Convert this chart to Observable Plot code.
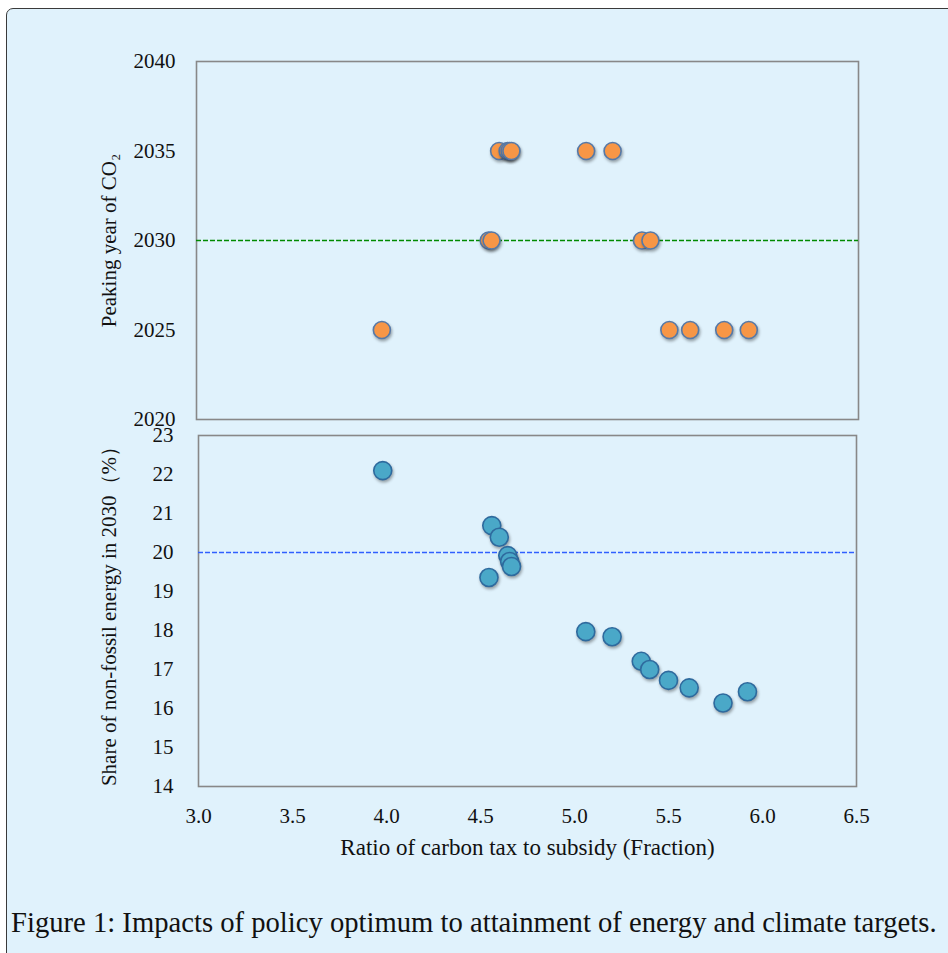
<!DOCTYPE html>
<html>
<head>
<meta charset="utf-8">
<script src="https://cdn.jsdelivr.net/npm/d3@7"></script>
<script src="https://cdn.jsdelivr.net/npm/@observablehq/plot@0.6"></script>
<style>
  html, body { margin: 0; padding: 0; background: #ffffff; }
  body { width: 948px; height: 953px; position: relative; overflow: hidden; }
  #panel { position: absolute; left: 6px; top: 8px; width: 1000px; height: 1000px;
           border: 1.5px solid #3a3a3a; border-radius: 7px; background: #e0f2fc; box-sizing: border-box; }
  .plot { position: absolute; left: 0; top: 0; }
  svg g[aria-label="dot"] circle { filter: drop-shadow(1px 2px 1.5px rgba(0,0,0,0.35)); }
  #caption { position: absolute; left: 11px; top: 906px; font-family: "Liberation Serif", serif;
             font-size: 27px; line-height: 32px; color: #111; white-space: nowrap; }
</style>
</head>
<body>
<div id="panel"></div>
<div id="top" class="plot"></div>
<div id="bottom" class="plot"></div>
<div id="caption">Figure 1: Impacts of policy optimum to attainment of energy and climate targets.</div>
<script>
const ratio    = [3.98, 4.545, 4.56, 4.60, 4.645, 4.655, 4.665, 5.06, 5.20, 5.355, 5.40, 5.50, 5.61, 5.79, 5.92];
const peakYear = [2025, 2030, 2030, 2035, 2035, 2035, 2035, 2035, 2035, 2030, 2030, 2025, 2025, 2025, 2025];
const share    = [22.1, 19.36, 20.69, 20.39, 19.92, 19.77, 19.64, 17.97, 17.84, 17.21, 17.0, 16.72, 16.53, 16.14, 16.43];
const yearTicks  = [2020, 2025, 2030, 2035, 2040];
const shareTicks = [14, 15, 16, 17, 18, 19, 20, 21, 22, 23];
const ratioTicks = [3.0, 3.5, 4.0, 4.5, 5.0, 5.5, 6.0, 6.5];
const peakTarget = 2030;
const shareTarget = 20;

const rows = ratio.map((r, i) => ({ratio: r, year: peakYear[i], share: share[i]}));
const font = "'Liberation Serif', 'Times New Roman', serif";

const topPlot = Plot.plot({
  width: 948, height: 440,
  marginTop: 61, marginBottom: 21, marginLeft: 196, marginRight: 90,
  style: {background: "transparent", fontFamily: font, fontSize: "21px", color: "#111"},
  x: {domain: [3, 6.5], axis: null},
  y: {domain: [2020, 2040], ticks: yearTicks, tickFormat: d => String(d), tickSize: 0, tickPadding: 21,
      label: "Peaking year of CO₂", labelAnchor: "center", labelArrow: "none", labelOffset: 95},
  marks: [
    Plot.frame({stroke: "#888", strokeWidth: 1.6}),
    Plot.ruleY([peakTarget], {stroke: "#008a00", strokeWidth: 1.6, strokeDasharray: "5,2"}),
    Plot.dot(rows, {x: "ratio", y: "year", r: 8.5, fill: "#f79646", stroke: "#5579a8", strokeWidth: 1.6, fillOpacity: 1})
  ]
});
document.getElementById("top").appendChild(topPlot);

const bottomPlot = Plot.plot({
  width: 948, height: 880,
  marginTop: 435, marginBottom: 94, marginLeft: 198, marginRight: 92,
  style: {background: "transparent", fontFamily: font, fontSize: "21px", color: "#111"},
  x: {domain: [3, 6.5], ticks: ratioTicks, tickFormat: d3.format(".1f"), tickSize: 0, tickPadding: 22,
      label: "Ratio of carbon tax to subsidy (Fraction)", labelAnchor: "center", labelArrow: "none", labelOffset: 68},
  y: {domain: [14, 23], ticks: shareTicks, tickSize: 0, tickPadding: 25,
      label: "Share of non-fossil energy in 2030（%）", labelAnchor: "center", labelArrow: "none", labelOffset: 97},
  marks: [
    Plot.frame({stroke: "#888", strokeWidth: 1.6}),
    Plot.ruleY([shareTarget], {stroke: "#3060ff", strokeWidth: 1.6, strokeDasharray: "5,2"}),
    Plot.dot(rows, {x: "ratio", y: "share", r: 9, fill: "#4aa8c8", stroke: "#2e6a9e", strokeWidth: 1.6, fillOpacity: 1})
  ]
});
d3.select(bottomPlot).select('g[aria-label="x-axis label"]').attr("font-size", 23);
document.getElementById("bottom").appendChild(bottomPlot);

// fit caption to the reference width
const cap = document.getElementById("caption");
const w = cap.getBoundingClientRect().width;
const target = 926;
cap.style.fontSize = (27 * target / w).toFixed(2) + "px";
</script>
</body>
</html>
